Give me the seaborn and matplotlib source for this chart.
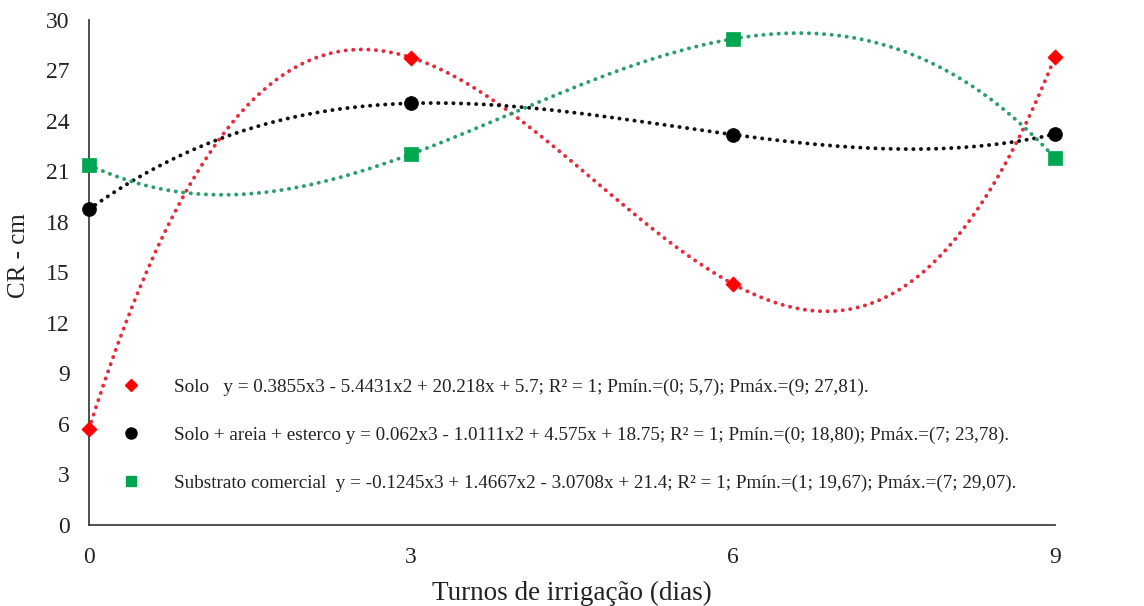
import numpy as np
import pandas as pd
import matplotlib
matplotlib.use("Agg")
import matplotlib.pyplot as plt
import seaborn as sns
from matplotlib.lines import Line2D

# Data
dias = [0, 3, 6, 9]
solo = [5.7, 27.77, 14.32, 27.81]
solo_areia = [18.75, 25.05, 23.19, 23.22]
substrato = [21.4, 22.03, 28.88, 21.80]

series_names = ["Solo", "Solo + areia + esterco", "Substrato comercial"]
legend_labels = [
    "Solo   y = 0.3855x3 - 5.4431x2 + 20.218x + 5.7; R² = 1; Pmín.=(0; 5,7); Pmáx.=(9; 27,81).",
    "Solo + areia + esterco y = 0.062x3 - 1.0111x2 + 4.575x + 18.75; R² = 1; Pmín.=(0; 18,80); Pmáx.=(7; 23,78).",
    "Substrato comercial  y = -0.1245x3 + 1.4667x2 - 3.0708x + 21.4; R² = 1; Pmín.=(1; 19,67); Pmáx.=(7; 29,07).",
]
y_ticks = list(range(0, 31, 3))
x_ticks = [0, 3, 6, 9]

point_colors = ["#FF0000", "#000000", "#00A650"]
line_colors = ["#E52B3E", "#111111", "#2A9F6C"]
markers = ["D", "o", "s"]
msizes = [60, 100, 90]

sns.set_theme(style="white")
plt.rcParams["font.family"] = ["Liberation Serif", "DejaVu Serif"]

fig = plt.figure(figsize=(11.44, 6.06), dpi=100)
ax = fig.add_axes([0.0778, 0.1337, 0.8444, 0.8333])

xs = np.linspace(0, 9, 400)
for name, vals, lc, pc, mk, ms in zip(series_names, [solo, solo_areia, substrato],
                                       line_colors, point_colors, markers, msizes):
    coef = np.polyfit(dias, vals, 3)
    curve = pd.DataFrame({"x": xs, "y": np.polyval(coef, xs)})
    sns.lineplot(data=curve, x="x", y="y", ax=ax, color=lc, linewidth=2.8,
                 linestyle=(0, (0.05, 1.9)), dash_capstyle="round", legend=False)
    pts = pd.DataFrame({"x": dias, "y": vals})
    sns.scatterplot(data=pts, x="x", y="y", ax=ax, color=pc, marker=mk, s=ms,
                    edgecolor=pc, linewidth=0.5, zorder=5, clip_on=False, legend=False)

ax.set_xlim(0, 9)
ax.set_ylim(0, 30)
ax.set_xticks(x_ticks)
ax.set_yticks(y_ticks)
ax.tick_params(axis="both", labelsize=17, length=0, colors="#222222")
ax.tick_params(axis="x", pad=16)
ax.tick_params(axis="y", pad=14)
for s in ["top", "right"]:
    ax.spines[s].set_visible(False)
for s in ["left", "bottom"]:
    ax.spines[s].set_color("#404040")
    ax.spines[s].set_linewidth(1.3)
ax.set_xlabel("Turnos de irrigação (dias)", fontsize=19.5, labelpad=9, color="#222222")
ax.set_ylabel("CR - cm", fontsize=18, color="#222222")
ax.yaxis.set_label_coords(-0.061, 0.533)

handles = [Line2D([0], [0], marker=mk, color="none", markerfacecolor=pc,
                  markeredgecolor=pc, markersize=sz)
           for mk, pc, sz in zip(markers, point_colors, [6, 8, 7])]
leg = ax.legend(handles, legend_labels, loc="upper left", bbox_to_anchor=(0.016, 0.325),
                frameon=False, fontsize=13.8, labelspacing=1.6, handletextpad=1.75,
                handlelength=1.0, labelcolor="#222222")

fig.savefig("out.png", dpi=100)
